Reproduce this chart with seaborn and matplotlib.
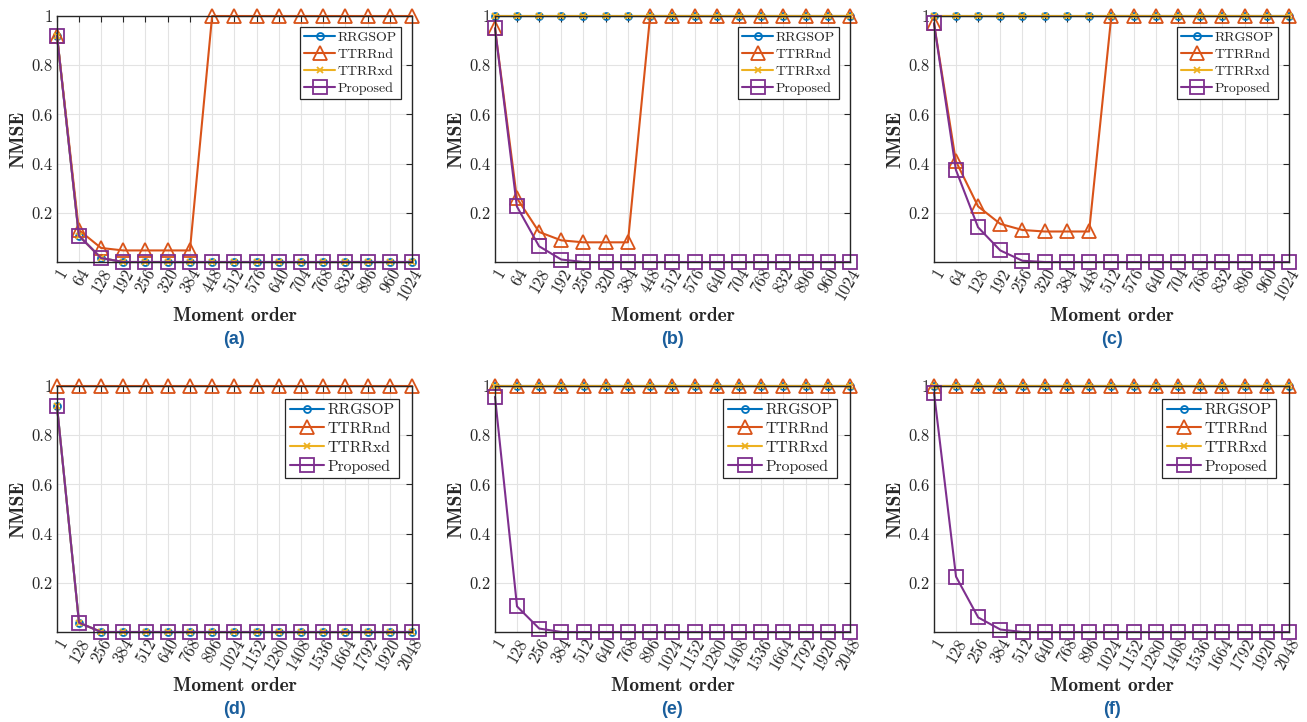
import matplotlib
matplotlib.use("Agg")
import matplotlib.pyplot as plt
import matplotlib.transforms as mtransforms
import numpy as np
import pandas as pd
import seaborn as sns

METHODS = ["RRGSOP", "TTRRnd", "TTRRxd", "Proposed"]
COLORS = {"RRGSOP": "#0072BD", "TTRRnd": "#D95319", "TTRRxd": "#EDB120", "Proposed": "#7E2F8E"}
MARKERS = {"RRGSOP": "o", "TTRRnd": "^", "TTRRxd": "x", "Proposed": "s"}
MSIZES = {"RRGSOP": 5, "TTRRnd": 10, "TTRRxd": 5, "Proposed": 10}

order_top = [1] + list(range(64, 1025, 64))
order_bot = [1] + list(range(128, 2049, 128))
zeros13 = [0] * 13

# panel (a)
a_rrgsop = [0.92, 0.107, 0.016, 0] + zeros13
a_ttrrnd = [0.92, 0.13, 0.057, 0.047, 0.047, 0.047, 0.047] + [1] * 10
a_ttrrxd = [0.92, 0.107, 0.016, 0] + zeros13
a_proposed = [0.92, 0.107, 0.016, 0] + zeros13

# panel (b)
b_rrgsop = [1] * 17
b_ttrrnd = [0.95, 0.26, 0.122, 0.088, 0.08, 0.08, 0.08] + [1] * 10
b_ttrrxd = [1] * 17
b_proposed = [0.95, 0.226, 0.064, 0.01] + zeros13

# panel (c)
c_rrgsop = [1] * 17
c_ttrrnd = [0.97, 0.41, 0.226, 0.155, 0.13, 0.124, 0.124, 0.124] + [1] * 9
c_ttrrxd = [1] * 17
c_proposed = [0.97, 0.375, 0.141, 0.047, 0.005] + [0] * 12

# panel (d)
d_rrgsop = [0.918, 0.038] + [0] * 15
d_ttrrnd = [1] * 17
d_ttrrxd = [0.918, 0.038] + [0] * 15
d_proposed = [0.918, 0.038] + [0] * 15

# panel (e)
e_rrgsop = [1] * 17
e_ttrrnd = [1] * 17
e_ttrrxd = [1] * 17
e_proposed = [0.956, 0.104, 0.014] + [0] * 14

# panel (f)
f_rrgsop = [1] * 17
f_ttrrnd = [1] * 17
f_ttrrxd = [1] * 17
f_proposed = [0.973, 0.225, 0.059, 0.01] + zeros13

panels = [
    ("(a)", order_top, [a_rrgsop, a_ttrrnd, a_ttrrxd, a_proposed]),
    ("(b)", order_top, [b_rrgsop, b_ttrrnd, b_ttrrxd, b_proposed]),
    ("(c)", order_top, [c_rrgsop, c_ttrrnd, c_ttrrxd, c_proposed]),
    ("(d)", order_bot, [d_rrgsop, d_ttrrnd, d_ttrrxd, d_proposed]),
    ("(e)", order_bot, [e_rrgsop, e_ttrrnd, e_ttrrxd, e_proposed]),
    ("(f)", order_bot, [f_rrgsop, f_ttrrnd, f_ttrrxd, f_proposed]),
]

sns.set_style("white")
plt.rcParams["font.family"] = ["cmr10", "DejaVu Serif"]
plt.rcParams["axes.unicode_minus"] = False

W, H = 1307, 722
fig = plt.figure(figsize=(W / 100, H / 100), dpi=100)

lefts = [57, 495, 934]
tops = [16, 386]
ax_w, ax_h = 355, 246

for i, (tag, xs, series) in enumerate(panels):
    row, col = divmod(i, 3)
    left, top = lefts[col], tops[row]
    ax = fig.add_axes([left / W, (H - top - ax_h) / H, ax_w / W, ax_h / H])

    df = pd.DataFrame({"order": np.tile(xs, 4),
                       "nmse": np.concatenate(series),
                       "method": np.repeat(METHODS, len(xs))})
    for m in METHODS:
        sub = df[df.method == m]
        sns.lineplot(data=sub, x="order", y="nmse", ax=ax, color=COLORS[m],
                     marker=MARKERS[m], markersize=MSIZES[m], markerfacecolor="none",
                     markeredgecolor=COLORS[m], markeredgewidth=1.3, linewidth=1.5,
                     label=m, clip_on=False, sort=False)

    ax.set_xlim(xs[0], xs[-1])
    ax.set_ylim(0, 1)
    ax.set_xticks(xs)
    ax.set_xticklabels([str(v) for v in xs], rotation=60, ha="right", va="top",
                       rotation_mode="anchor", fontsize=12)
    offset = mtransforms.ScaledTranslation(6 / 72, 0, fig.dpi_scale_trans)
    for lab in ax.get_xticklabels():
        lab.set_transform(lab.get_transform() + offset)
    ax.set_yticks([0.2, 0.4, 0.6, 0.8, 1])
    ax.set_yticklabels(["0.2", "0.4", "0.6", "0.8", "1"], fontsize=12)
    ax.tick_params(direction="in", length=4, width=0.8, top=True, right=True,
                   color="#262626", pad=3)
    ax.grid(True, color="#e3e3e3", linewidth=0.8)
    ax.set_axisbelow(True)
    for sp in ax.spines.values():
        sp.set_color("#262626")
        sp.set_linewidth(1.0)
        sp.set_visible(True)

    ax.set_xlabel("Moment order", fontfamily="cmb10", fontsize=14, labelpad=3)
    ax.set_ylabel("NMSE", fontfamily="cmb10", fontsize=14, labelpad=3)

    leg = ax.legend(loc="upper right", fontsize=10 if row == 0 else 11.3,
                    frameon=True, fancybox=False, framealpha=1, edgecolor="#262626",
                    borderpad=0.3, labelspacing=0.3, handlelength=2.2,
                    handletextpad=0.2, borderaxespad=0.8)
    leg.get_frame().set_linewidth(0.9)

    fig.text((left + ax_w / 2) / W, 1 - (340 if row == 0 else 710) / H, tag,
             ha="center", va="center", fontsize=13, fontweight="bold",
             color="#1A5E9C", family=["Liberation Sans", "DejaVu Sans"])

fig.savefig("out.png", dpi=100)
